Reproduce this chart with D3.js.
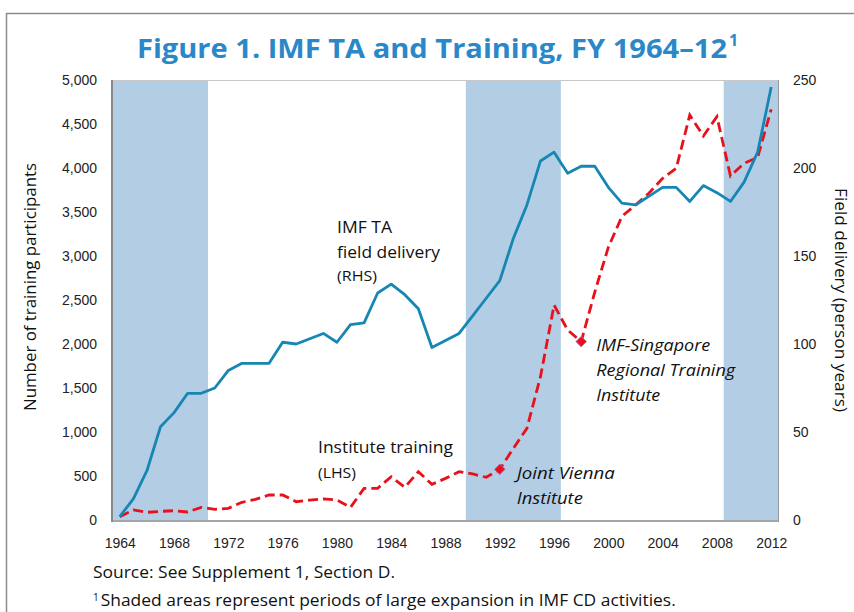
<!DOCTYPE html>
<html>
<head>
<meta charset="utf-8">
<script src="https://cdn.jsdelivr.net/npm/d3@7"></script>
<style>
  body { margin: 0; background: #fff; }
  svg { font-family: "Open Sans", "DejaVu Sans", sans-serif; }
</style>
</head>
<body>
<svg id="chart" width="854" height="612"></svg>
<script>
// fiscal years 1964..2012
const years = d3.range(1964, 2013);
// IMF TA field delivery, person years (RHS)
const fieldDelivery = [2, 12, 28, 53, 61, 72, 72, 75, 85, 89, 89, 89, 101, 100, 103, 106, 101, 111, 112,
  129, 134, 128, 120, 98, 102, 106, 116, 126, 136, 160, 179, 204, 209, 197, 201, 201, 189, 180, 179,
  184, 189, 189, 181, 190, 186, 181, 192, 209, 246];
// Institute training participants (LHS)
const participants = [38, 114, 87, 98, 106, 91, 144, 121, 133, 201, 235, 284, 284, 208, 227, 239, 227, 144, 360,
  360, 492, 371, 549, 405, 473, 549, 523, 485, 576, 814, 1042, 1629, 2443, 2159, 2027, 2590, 3100, 3450, 3580,
  3716, 3883, 3996, 4602, 4364, 4583, 3909, 4053, 4121, 4667];
// shaded expansion periods (first and last fiscal year)
const shaded = [[1964, 1970], [1990, 1996], [2009, 2012]];
const xTicks = d3.range(1964, 2013, 4);
const leftTicks = d3.range(0, 5001, 500);
const rightTicks = d3.range(0, 251, 50);
// markers for institute openings
const markers = [
  { year: 1992, lines: ["Joint Vienna", "Institute"], widths: [98, 66] },
  { year: 1998, lines: ["IMF-Singapore", "Regional Training", "Institute"], widths: [114, 139, 64] }
];

const svg = d3.select("#chart");
const margin = { top: 80, right: 76, bottom: 92, left: 113 };
const width = 854, height = 612;
const blue = "#1686b3", red = "#e8101a", shade = "#b3cde4", grey = "#a6a6a6";

// outer frame
svg.append("rect").attr("x", 6.5).attr("y", 13.5).attr("width", 900).attr("height", 700)
  .attr("fill", "none").attr("stroke", "#8c8c8c").attr("stroke-width", 1.5);

var x = d3.scaleBand().domain(years).range([margin.left, width - margin.right]);
var xc = function(yr) { return x(yr) + x.bandwidth() / 2; };
var yL = d3.scaleLinear().domain([0, 5000]).range([height - margin.bottom, margin.top]);
var yR = d3.scaleLinear().domain([0, 250]).range([height - margin.bottom, margin.top]);

// shaded bands
svg.append("g").selectAll("rect").data(shaded).enter().append("rect")
  .attr("x", d => x(d[0]))
  .attr("width", d => x(d[1]) + x.bandwidth() - x(d[0]))
  .attr("y", margin.top)
  .attr("height", height - margin.bottom - margin.top)
  .attr("fill", shade);

// top border line
svg.append("line").attr("x1", margin.left).attr("x2", width - margin.right)
  .attr("y1", margin.top + 0.5).attr("y2", margin.top + 0.5)
  .attr("stroke", "#c8c8c8").attr("stroke-width", 1);

// axes
var xAxis = d3.axisBottom(d3.scalePoint().domain(years).range([xc(1964), xc(2012)]))
  .tickValues(xTicks).tickSize(0).tickPadding(18);
var gx = svg.append("g").attr("transform", "translate(0," + (height - margin.bottom) + ")").call(xAxis);

var gl = svg.append("g").attr("transform", "translate(" + margin.left + ",0)")
  .call(d3.axisLeft(yL).tickValues(leftTicks).tickSize(0).tickPadding(16).tickFormat(d3.format(",")));

var gr = svg.append("g").attr("transform", "translate(" + (width - margin.right) + ",0)")
  .call(d3.axisRight(yR).tickValues(rightTicks).tickSize(0).tickPadding(15));

[gx, gl, gr].forEach(function(g) {
  g.selectAll("text").attr("font-size", 14).attr("fill", "#222");
  g.select(".domain").remove();
});

// axis lines
svg.append("line").attr("x1", margin.left).attr("x2", width - margin.right)
  .attr("y1", height - margin.bottom + 1).attr("y2", height - margin.bottom + 1)
  .attr("stroke", grey).attr("stroke-width", 2);
svg.append("line").attr("x1", margin.left - 1).attr("x2", margin.left - 1)
  .attr("y1", margin.top).attr("y2", height - margin.bottom + 2)
  .attr("stroke", "#888").attr("stroke-width", 2);
svg.append("line").attr("x1", width - margin.right + 0.5).attr("x2", width - margin.right + 0.5)
  .attr("y1", margin.top).attr("y2", height - margin.bottom + 2)
  .attr("stroke", "#999").attr("stroke-width", 1);

// lines
var lineR = d3.line().x((d, i) => xc(years[i])).y(d => yR(d));
var lineL = d3.line().x((d, i) => xc(years[i])).y(d => yL(d));

svg.append("path").datum(participants).attr("d", lineL)
  .attr("fill", "none").attr("stroke", red).attr("stroke-width", 2.8)
  .attr("stroke-dasharray", "10,5");

svg.append("path").datum(fieldDelivery).attr("d", lineR)
  .attr("fill", "none").attr("stroke", blue).attr("stroke-width", 2.8)
  .attr("stroke-linejoin", "round");

// diamond markers
markers.forEach(function(m) {
  var v = participants[years.indexOf(m.year)];
  svg.append("path")
    .attr("d", d3.symbol().type(d3.symbolDiamond2).size(70))
    .attr("transform", "translate(" + xc(m.year) + "," + yL(v) + ")")
    .attr("fill", red).attr("stroke", "#9a6bc0").attr("stroke-width", 1);
});

// annotations
function label(x0, y0, txt, size, italic) {
  return svg.append("text").attr("x", x0).attr("y", y0).text(txt)
    .attr("font-size", size).attr("fill", "#111")
    .attr("font-style", italic ? "italic" : "normal");
}
function fit(sel, w) {
  return sel.attr("textLength", w).attr("lengthAdjust", "spacingAndGlyphs");
}
fit(label(337, 233, "IMF TA", 16), 55);
fit(label(337, 258, "field delivery", 16), 103);
fit(label(337, 281, "(RHS)", 14), 40);
fit(label(318, 453, "Institute training", 16), 135);
fit(label(318, 478, "(LHS)", 14), 38);

markers.forEach(function(m, k) {
  var x0 = xc(m.year) + (k == 0 ? 17 : 15);
  var y0 = k == 0 ? 479 : 351;
  m.lines.forEach(function(t, i) {
    fit(label(x0, y0 + i * 25, t, 16.5, true), m.widths[i]);
  });
});

// axis titles
svg.append("text").attr("transform", "translate(36,287) rotate(-90)")
  .attr("text-anchor", "middle").attr("font-size", 16.5).attr("fill", "#111")
  .attr("textLength", 248).attr("lengthAdjust", "spacingAndGlyphs")
  .text("Number of training participants");
svg.append("text").attr("transform", "translate(835,300) rotate(90)")
  .attr("text-anchor", "middle").attr("font-size", 16.5).attr("fill", "#111")
  .attr("textLength", 224).attr("lengthAdjust", "spacingAndGlyphs")
  .text("Field delivery (person years)");

// title
svg.append("text").attr("x", 137).attr("y", 58)
  .attr("font-size", 27).attr("font-weight", "bold").attr("fill", "#2a88c8")
  .attr("textLength", 590).attr("lengthAdjust", "spacingAndGlyphs")
  .text("Figure 1. IMF TA and Training, FY 1964–12");
svg.append("text").attr("x", 729).attr("y", 46).attr("font-size", 16)
  .attr("font-weight", "bold").attr("fill", "#2a88c8").text("1");

// footnotes
svg.append("text").attr("x", 93).attr("y", 578).attr("font-size", 15.5).attr("fill", "#111")
  .attr("textLength", 302).attr("lengthAdjust", "spacingAndGlyphs")
  .text("Source: See Supplement 1, Section D.");
var fn = svg.append("text").attr("x", 93).attr("y", 606).attr("font-size", 15.5).attr("fill", "#111");
fn.append("tspan").attr("font-size", 10).attr("dy", -5).text("1");
fn.append("tspan").attr("dy", 5).attr("dx", 2)
  .attr("textLength", 575).attr("lengthAdjust", "spacingAndGlyphs")
  .text("Shaded areas represent periods of large expansion in IMF CD activities.");
</script>
</body>
</html>
